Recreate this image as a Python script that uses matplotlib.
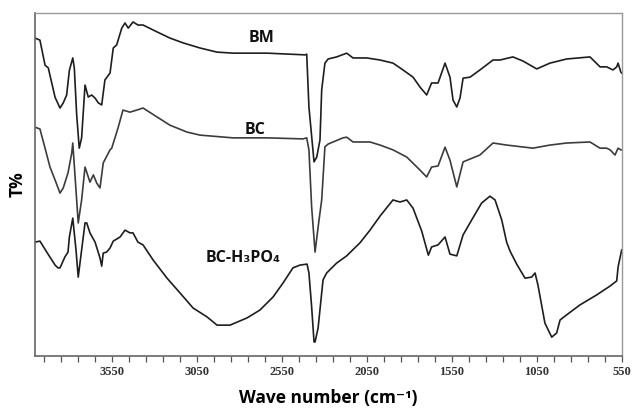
import matplotlib.pyplot as plt
import numpy as np

plt.rcParams["font.family"] = ["Open Sans", "DejaVu Sans"]

bm_wn = [4000, 3971, 3941, 3922, 3882, 3853, 3834, 3814, 3798, 3778, 3769, 3755, 3740,
         3726, 3706, 3687, 3667, 3647, 3628, 3608, 3589, 3559, 3540, 3520, 3490, 3471,
         3452, 3424, 3395, 3365, 3283, 3207, 3130, 3030, 2930, 2836, 2636, 2413, 2403,
         2390, 2360, 2344, 2325, 2315, 2296, 2277, 2227, 2168, 2131, 2050, 1972, 1896,
         1837, 1778, 1737, 1698, 1669, 1631, 1590, 1561, 1543, 1521, 1502, 1484, 1443,
         1385, 1308, 1267, 1191, 1132, 1051, 973, 875, 738, 679, 640, 603, 581, 573,
         557, 552]
bm_t = [92.7, 92.1, 84.8, 84.0, 75.4, 72.3, 73.8, 76.1, 83.3, 86.9, 84.0, 70.3, 60.6,
        63.6, 79.0, 75.5, 76.1, 75.2, 73.8, 73.2, 80.5, 82.5, 89.8, 90.7, 95.6, 97.1,
        95.6, 97.4, 96.5, 96.5, 94.5, 92.7, 91.3, 89.8, 88.6, 88.3, 88.3, 87.8, 88.0,
        72.6, 56.6, 58.0, 63.0, 77.6, 85.4, 86.6, 87.2, 88.3, 86.9, 86.9, 86.3, 85.4,
        83.4, 81.3, 78.4, 76.1, 79.6, 79.6, 85.4, 81.3, 74.6, 72.6, 75.2, 81.0, 81.3,
        83.4, 86.3, 86.3, 87.2, 86.0, 83.7, 85.4, 86.6, 87.2, 84.3, 84.3, 83.4, 84.3,
        85.4, 82.8, 82.5]

bc_wn = [4000, 3971, 3941, 3912, 3882, 3853, 3834, 3806, 3784, 3778, 3746, 3726, 3706,
         3677, 3657, 3637, 3618, 3599, 3559, 3549, 3512, 3483, 3442, 3402, 3365, 3283,
         3207, 3107, 3030, 2836, 2636, 2425, 2403, 2390, 2374, 2354, 2336, 2315, 2296,
         2277, 2190, 2168, 2131, 2031, 1972, 1896, 1815, 1737, 1698, 1669, 1631, 1590,
         1561, 1521, 1484, 1385, 1308, 1228, 1073, 973, 875, 738, 679, 640, 620, 591,
         573, 557, 552]
bc_t = [66.7, 66.2, 60.6, 55.1, 51.3, 47.5, 49.0, 53.4, 59.2, 62.1, 38.8, 45.5, 55.1,
        50.7, 52.8, 50.4, 49.0, 56.3, 60.1, 60.6, 66.5, 71.7, 71.1, 71.7, 72.3, 69.7,
        67.3, 65.3, 64.4, 63.6, 63.6, 63.3, 63.6, 60.1, 43.4, 30.3, 37.6, 45.5, 61.0,
        61.8, 63.6, 63.8, 62.4, 62.4, 61.5, 60.1, 58.0, 54.2, 52.2, 55.1, 55.4, 60.9,
        57.1, 49.3, 56.6, 58.6, 62.1, 61.5, 60.6, 61.5, 62.1, 62.4, 60.6, 60.6, 60.1,
        58.6, 60.6, 60.1, 60.1]

h3po4_wn = [4000, 3971, 3931, 3882, 3865, 3853, 3824, 3806, 3798, 3778, 3759, 3746, 3726,
            3706, 3696, 3677, 3647, 3618, 3608, 3599, 3579, 3559, 3540, 3500, 3471, 3442,
            3424, 3395, 3365, 3306, 3224, 3148, 3071, 2989, 2930, 2854, 2754, 2678, 2601,
            2542, 2484, 2443, 2401, 2390, 2374, 2360, 2354, 2336, 2315, 2307, 2286, 2227,
            2168, 2090, 2031, 1972, 1896, 1855, 1815, 1778, 1727, 1688, 1669, 1631, 1590,
            1561, 1521, 1484, 1433, 1375, 1326, 1296, 1257, 1228, 1208, 1169, 1120, 1081,
            1061, 1044, 1003, 963, 934, 914, 875, 797, 699, 620, 581, 573, 552]
h3po4_t = [33.2, 33.5, 30.3, 26.5, 25.7, 25.7, 28.9, 30.3, 34.7, 40.2, 30.9, 23.0, 30.9,
           38.8, 38.8, 35.9, 33.2, 28.6, 26.2, 30.0, 30.3, 31.5, 33.5, 34.7, 36.7, 35.9,
           35.9, 33.2, 32.4, 28.0, 22.7, 18.4, 14.0, 11.4, 9.0, 9.0, 11.1, 13.4, 17.2,
           21.3, 25.7, 26.5, 26.8, 24.2, 14.3, 4.1, 4.1, 8.2, 18.4, 22.2, 24.2, 27.1,
           29.2, 33.0, 36.7, 40.8, 45.5, 44.9, 45.5, 43.1, 36.4, 29.4, 31.8, 32.4, 34.7,
           29.7, 29.2, 35.3, 39.7, 44.6, 46.6, 45.5, 39.7, 33.2, 30.6, 26.8, 22.7, 23.0,
           24.2, 20.7, 9.6, 5.5, 6.7, 10.5, 12.0, 14.9, 17.8, 20.4, 21.9, 25.9, 30.9]

series = [("BM", bm_wn, bm_t, "#1e1e1e", (2666, 92.7)),
          ("BC", bc_wn, bc_t, "#3c3c3c", (2707, 65.9)),
          ("BC-H\u2083PO\u2084", h3po4_wn, h3po4_t, "#1e1e1e", (2778, 28.6))]

major_ticks = [3550, 3050, 2550, 2050, 1550, 1050, 550]

fig = plt.figure(figsize=(6.33, 4.12), dpi=100, facecolor="white")
ax = fig.add_axes([0.0553, 0.1359, 0.9273, 0.8325])

for name, wn, t, col, (lx, ly) in series:
    ax.plot(wn, t, color=col, linewidth=1.2)
    ax.text(lx, ly, name, fontsize=11.5, fontweight="bold", ha="center", va="center",
            color="#111111", family=["Open Sans", "DejaVu Sans"])

ax.set_xlim(4000, 550)
ax.set_ylim(0, 100)
ax.set_xticks(major_ticks)
ax.set_xticks(np.arange(3950, 549, -100), minor=True)
ax.set_yticks([])
ax.tick_params(axis="x", which="both", direction="out", length=4, width=0.9,
               color="#555555", pad=3)
for lab in ax.get_xticklabels():
    lab.set_family("Liberation Serif")
    lab.set_fontweight("bold")
    lab.set_fontsize(9)
    lab.set_color("#333333")

for side in ["top", "right"]:
    ax.spines[side].set_color("#999999")
    ax.spines[side].set_linewidth(1.0)
for side in ["left", "bottom"]:
    ax.spines[side].set_color("#666666")
    ax.spines[side].set_linewidth(1.2)

ax.set_xlabel("Wave number (cm\u207b\u00b9)", fontsize=12.5, fontweight="bold", labelpad=8,
              family=["Open Sans", "DejaVu Sans"])
ax.set_ylabel("T%", fontsize=12.5, fontweight="bold", labelpad=6)

plt.savefig("out.png", dpi=100, facecolor="white")
plt.close()
